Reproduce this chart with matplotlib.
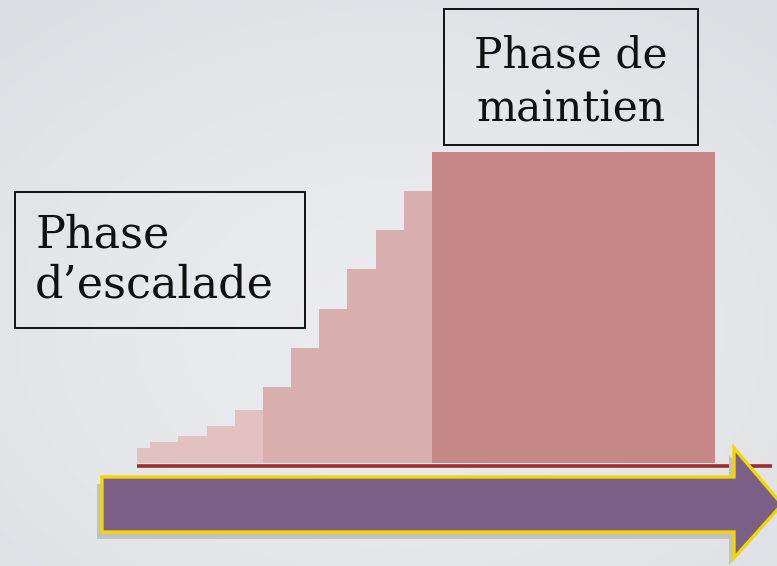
import numpy as np
import matplotlib.pyplot as plt
from matplotlib.patches import Rectangle, Polygon

# step edges (px) and heights above the baseline
step_edges = [137, 150, 178, 207, 235, 263, 291, 319, 347, 376, 404, 432, 715]
step_heights = [15, 21, 27, 37, 53, 76, 115, 154, 194, 233, 272, 311]
step_colors = ['#e2c1c1'] * 5 + ['#d8aeae'] * 6 + ['#c58886']

label_escalade = ['Phase', 'd\u2019escalade']
label_maintien = ['Phase de', 'maintien']

baseline = 463

fig = plt.figure(figsize=(7.77, 5.66), dpi=100)
ax = fig.add_axes([0, 0, 1, 1])
ax.set_xlim(0, 777)
ax.set_ylim(566, 0)
ax.axis('off')

# soft grey background, a bit darker toward the corners
yy, xx = np.mgrid[0:566, 0:777]
r = np.sqrt(((xx - 390) / 777) ** 2 + ((yy - 330) / 566) ** 2)
bg = np.clip(r / 0.8, 0, 1) ** 1.5
c0 = np.array([0.922, 0.925, 0.937])
c1 = np.array([0.859, 0.867, 0.886])
img = c0[None, None, :] * (1 - bg[..., None]) + c1[None, None, :] * bg[..., None]
ax.imshow(img, extent=(0, 777, 566, 0), aspect='auto', zorder=0)

# staircase + maintenance block
edges = np.array(step_edges)
heights = np.array(step_heights)
ax.bar(edges[:-1], heights, width=np.diff(edges), bottom=baseline - heights,
       align='edge', color=step_colors, linewidth=0, zorder=2)

# red baseline
ax.plot([137, 772], [465.5, 465.5], color='#a02c2c', lw=2.6, solid_capstyle='butt', zorder=3)

# purple arrow with shadow
body_l, body_r, body_t, body_b = 102, 734, 477, 532
head_t, head_b, tip_x = 448, 558, 782
mid = (body_t + body_b) / 2
pts = np.array([[body_l, body_t], [body_r, body_t], [body_r, head_t], [tip_x, mid],
                [body_r, head_b], [body_r, body_b], [body_l, body_b]])
ax.add_patch(Polygon(pts + [-5, 7], closed=True, facecolor='#c2c2c4', edgecolor='none', zorder=3))
ax.add_patch(Polygon(pts, closed=True, facecolor='#7b5f87', edgecolor='#f2d600',
                     lw=2.4, joinstyle='miter', zorder=4))

# label boxes
ax.add_patch(Rectangle((15, 192), 290, 136, fill=False, edgecolor='#111111', lw=1.4, zorder=5))
ax.add_patch(Rectangle((444, 9), 254, 136, fill=False, edgecolor='#111111', lw=1.4, zorder=5))

font = dict(family='DejaVu Serif', color='#111111', va='baseline', zorder=6)
ax.text(35, 247, label_escalade[0], ha='left', fontsize=32, **font)
ax.text(35, 297, label_escalade[1], ha='left', fontsize=32, **font)
ax.text(571, 67, label_maintien[0], ha='center', fontsize=30.5, **font)
ax.text(571, 122, label_maintien[1], ha='center', fontsize=30.5, **font)

fig.savefig('out.png', dpi=100)
